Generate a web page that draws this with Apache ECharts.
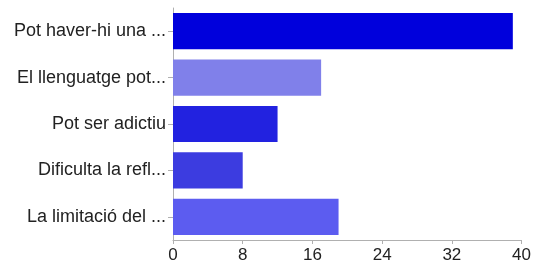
<!DOCTYPE html>
<html>
<head>
    <meta charset="utf-8" />
    <title></title>
    <script src="https://cdn.jsdelivr.net/npm/echarts@6/dist/echarts.min.js"></script>
    <style>
        html, body { margin: 0; padding: 0; background: #fff; }
    </style>
</head>
<body>
    <div id="divChart" style="width:534px;height:266px;"></div>
    <script>
        let categories = ['Pot haver-hi una ...', 'El llenguatge pot...', 'Pot ser adictiu', 'Dificulta la refl...', 'La limitació del ...'];
        let values = [39, 17, 12, 8, 19];
        let barColors = ['#0000dc', '#8080ea', '#2222e0', '#3c3ce0', '#5c5cf0'];
        let xTicks = [0, 40, 8];   // min, max, interval

        function InitChart() {
            var option = {
                backgroundColor: '#fff',
                animation: false,
                grid: {
                    left: 173,
                    right: 12,
                    top: 8,
                    bottom: 26
                },
                xAxis: {
                    type: 'value',
                    min: xTicks[0],
                    max: xTicks[1],
                    interval: xTicks[2],
                    axisLine: { show: true, lineStyle: { color: '#b0b0b0' } },
                    axisTick: { show: true, length: 4, lineStyle: { color: '#b0b0b0' } },
                    axisLabel: {
                        margin: 7,
                        color: '#222',
                        fontSize: 17,
                        fontFamily: 'Liberation Sans'
                    },
                    splitLine: { show: false }
                },
                yAxis: {
                    type: 'category',
                    data: categories,
                    inverse: true,
                    axisLine: { show: true, lineStyle: { color: '#b0b0b0' } },
                    axisTick: { show: true, alignWithLabel: true, length: 5, lineStyle: { color: '#b0b0b0' } },
                    axisLabel: {
                        margin: 7,
                        color: '#222',
                        fontSize: 18,
                        fontFamily: 'Liberation Sans'
                    }
                },
                series: [{
                    type: 'bar',
                    data: values.map(function (v, i) {
                        return { value: v, itemStyle: { color: barColors[i] } };
                    }),
                    barCategoryGap: '22%'
                }]
            };
            echarts.init(document.getElementById('divChart')).setOption(option);
        }
        InitChart();
    </script>
</body>
</html>
